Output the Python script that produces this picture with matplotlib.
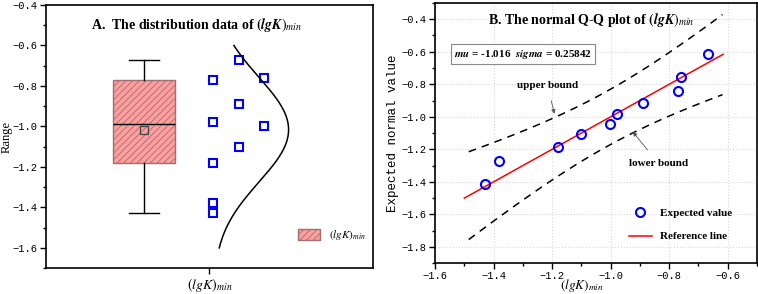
import numpy as np
import matplotlib
matplotlib.use('Agg')
import matplotlib.pyplot as plt
from matplotlib.patches import Patch
from matplotlib.lines import Line2D
from matplotlib.ticker import MultipleLocator

plt.rcParams['mathtext.fontset'] = 'stix'
plt.rcParams['hatch.linewidth'] = 0.6

# raw data (lgK)_min, split into the three jitter columns of panel A
col1 = [-0.77, -0.98, -1.18, -1.38, -1.43]
col2 = [-0.67, -0.89, -1.10]
col3 = [-0.76, -1.00]

# box statistics
q1, med, q3 = -1.18, -0.99, -0.77
whislo, whishi = -1.43, -0.67
mu = -1.016
sigma = 0.25842

# Q-Q data
sample = [-1.431, -1.380, -1.180, -1.101, -1.001, -0.980, -0.890, -0.770, -0.761, -0.668]
expected = [-1.414, -1.270, -1.183, -1.106, -1.042, -0.983, -0.915, -0.844, -0.754, -0.615]
ref_x = [-1.50, -0.616]
band_x = np.linspace(-1.485, -0.618, 60)
band_a, band_b = 0.17, 0.38   # half-width of the confidence band

tick_font = 'Liberation Mono'
serif = 'Liberation Serif'

fig = plt.figure(figsize=(7.58, 2.94), dpi=100)

# ---------------- panel A ----------------
ax1 = fig.add_axes([0.0607, 0.088, 0.4313, 0.895])
stats = [dict(med=med, q1=q1, q3=q3, whislo=whislo, whishi=whishi, mean=mu, fliers=[])]
bp = ax1.bxp(stats, positions=[3], widths=1.9, capwidths=[0.92], patch_artist=True,
             showmeans=True, showfliers=False,
             boxprops=dict(facecolor='#ff9e9e', edgecolor='#a07070', linewidth=1.0, hatch='/////'),
             medianprops=dict(color='black', linewidth=1.0),
             whiskerprops=dict(color='black', linewidth=1.0),
             capprops=dict(color='black', linewidth=1.0),
             meanprops=dict(marker='s', markerfacecolor='none', markeredgecolor='#444444',
                            markersize=5.5, markeredgewidth=0.9))

ax1.plot([5.12] * len(col1), col1, 's', mfc='none', mec='#0000ff', ms=5.5, mew=1.5)
ax1.plot([5.89] * len(col2), col2, 's', mfc='none', mec='#0000ff', ms=5.5, mew=1.5)
ax1.plot([6.66] * len(col3), col3, 's', mfc='none', mec='#0000ff', ms=5.5, mew=1.5)

yy = np.linspace(-1.6, -0.6, 200)
pdf = np.exp(-0.5 * ((yy - mu) / sigma) ** 2)
ax1.plot(5.12 + 2.3 * pdf, yy, color='black', lw=1.1)

ax1.set_xlim(0, 10)
ax1.set_ylim(-1.7, -0.4)
ax1.set_xticks([5])
ax1.set_xticklabels(['$(lgK)_{min}$'], fontsize=10)
ax1.yaxis.set_major_locator(MultipleLocator(0.2))
ax1.yaxis.set_minor_locator(MultipleLocator(0.1))
ax1.tick_params(axis='y', labelsize=7.5, direction='out', length=4, width=1, pad=2)
ax1.tick_params(axis='y', which='minor', length=2, width=1)
ax1.tick_params(axis='x', direction='out', length=4, width=1, pad=2)
for lab in ax1.get_yticklabels():
    lab.set_fontfamily(tick_font)
ax1.set_ylabel('Range', fontfamily=serif, fontsize=9, labelpad=0)
for s in ax1.spines.values():
    s.set_linewidth(1.2)
ax1.text(0.46, 0.925, 'A.  The distribution data of $\\boldsymbol{(lgK)_{min}}$',
         transform=ax1.transAxes, ha='center', va='center', fontfamily=serif,
         fontweight='bold', fontsize=10)
ax1.legend(handles=[Patch(facecolor='#ff9e9e', edgecolor='#a07070', hatch='/////')],
           labels=['$(lgK)_{min}$'], loc='lower left', bbox_to_anchor=(0.74, 0.06),
           frameon=False, fontsize=8, handlelength=2.0, handleheight=1.2)

# ---------------- panel B ----------------
ax2 = fig.add_axes([0.574, 0.105, 0.4247, 0.885])
ax2.grid(True, which='major', linestyle=':', color='#d8d8d8', linewidth=0.8)
ax2.set_axisbelow(True)

line_y = np.array(band_x)
half = band_a * np.sqrt(1 + ((band_x - mu) / band_b) ** 2)
ax2.plot(band_x, line_y + half, '--', color='black', lw=1.1, dashes=(5, 4))
ax2.plot(band_x, line_y - half, '--', color='black', lw=1.1, dashes=(5, 4))
ax2.plot(ref_x, ref_x, color='red', lw=1.1)
ax2.plot(sample, expected, 'o', mfc='none', mec='#0000ff', ms=6.5, mew=1.5)

ax2.set_xlim(-1.6, -0.5)
ax2.set_ylim(-1.9, -0.3)
ax2.xaxis.set_major_locator(MultipleLocator(0.2))
ax2.xaxis.set_minor_locator(MultipleLocator(0.1))
ax2.yaxis.set_major_locator(MultipleLocator(0.2))
ax2.yaxis.set_minor_locator(MultipleLocator(0.1))
ax2.tick_params(labelsize=7.5, direction='out', length=4, width=1, pad=2)
ax2.tick_params(which='minor', length=2, width=1)
for lab in ax2.get_xticklabels() + ax2.get_yticklabels():
    lab.set_fontfamily(tick_font)
ax2.set_xlabel('$(lgK)_{min}$', fontsize=9.5)
ax2.xaxis.set_label_coords(0.455, -0.055)
ax2.set_ylabel('Expected normal value', fontfamily=tick_font, fontsize=9, labelpad=2)
for s in ax2.spines.values():
    s.set_linewidth(1.2)

ax2.text(0.485, 0.935, 'B. The normal Q-Q plot of $\\boldsymbol{(lgK)_{min}}$',
         transform=ax2.transAxes, ha='center', va='center', fontfamily=serif,
         fontweight='bold', fontsize=10)
ax2.text(-1.30, -0.616, '$\\boldsymbol{mu}$ = -1.016  $\\boldsymbol{sigma}$ = 0.25842',
         ha='center', va='center', fontfamily=serif, fontweight='bold', fontsize=8,
         bbox=dict(boxstyle='square,pad=0.3', facecolor='white', edgecolor='#888888', lw=0.8))
ax2.annotate('upper bound', xy=(-1.19, -0.998), xytext=(-1.216, -0.807),
             ha='center', va='center', fontfamily=serif, fontweight='bold', fontsize=8,
             arrowprops=dict(arrowstyle='-|>', color='#555555', lw=0.6, mutation_scale=6,
                             shrinkA=6))
ax2.annotate('lower bound', xy=(-0.93, -1.08), xytext=(-0.836, -1.289),
             ha='center', va='center', fontfamily=serif, fontweight='bold', fontsize=8,
             arrowprops=dict(arrowstyle='-|>', color='#555555', lw=0.6, mutation_scale=6,
                             shrinkA=6))

handles = [Line2D([], [], ls='none', marker='o', mfc='none', mec='#0000ff', ms=6.5, mew=1.5),
           Line2D([], [], color='red', lw=1.1)]
ax2.legend(handles, ['Expected value', 'Reference line'], loc='lower right',
           bbox_to_anchor=(0.955, 0.045), frameon=False,
           prop=dict(family=serif, weight='bold', size=8), labelspacing=1.25,
           handlelength=2.0)

fig.savefig('out.png', dpi=100)
